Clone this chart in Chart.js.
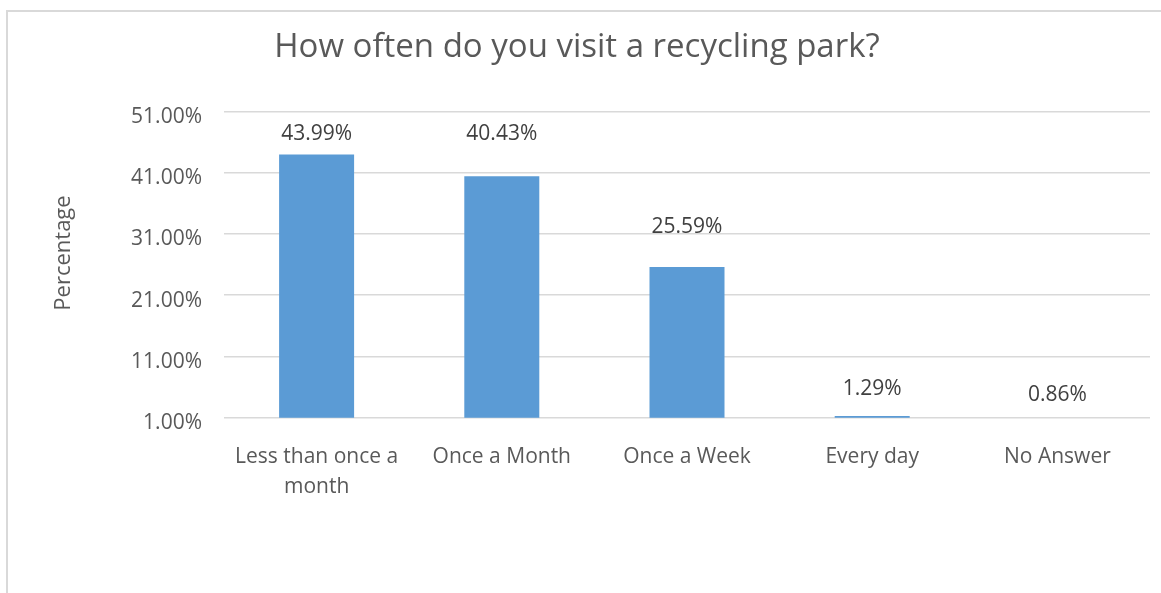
<!DOCTYPE html>
<html>
<head>
<meta charset="utf-8">
<script src="https://cdn.jsdelivr.net/npm/chart.js@4/dist/chart.umd.min.js"></script>
<style>
  html, body { margin: 0; padding: 0; background: #ffffff; }
  #wrap { position: relative; width: 1161px; height: 593px; }
</style>
</head>
<body>
<div id="wrap"><canvas id="c" width="1161" height="593"></canvas></div>
<script>
// Survey answers and their shares
const categories = [["Less than once a", "month"], "Once a Month", "Once a Week", "Every day", "No Answer"];
const percentages = [43.99, 40.43, 25.59, 1.29, 0.86];
const yTicks = [1, 11, 21, 31, 41, 51];

const chartTitle = "How often do you visit a recycling park?";
const yAxisTitle = "Percentage";

const FONT = "'Open Sans', 'Noto Sans', sans-serif";
const TEXT = "#595959";

// Frame, title and rotated axis caption
const decorations = {
  id: "decorations",
  beforeDraw(chart) {
    const ctx = chart.ctx;
    ctx.save();
    ctx.fillStyle = "#ffffff";
    ctx.fillRect(0, 0, chart.width, chart.height);
    ctx.strokeStyle = "#d9d9d9";
    ctx.lineWidth = 2;
    ctx.strokeRect(7, 11, 1300, 800);
    ctx.restore();
  },
  afterDraw(chart) {
    const ctx = chart.ctx;
    ctx.save();
    ctx.fillStyle = TEXT;
    ctx.textAlign = "center";
    ctx.textBaseline = "alphabetic";
    ctx.font = "33px " + FONT;
    ctx.fillText(chartTitle, 577, 56.5);

    ctx.translate(70, 253);
    ctx.rotate(-Math.PI / 2);
    ctx.font = "22px " + FONT;
    ctx.fillText(yAxisTitle, 0, 0);
    ctx.restore();
  }
};

// Value labels above each bar
const valueLabels = {
  id: "valueLabels",
  afterDatasetsDraw(chart, args, opts) {
    const ctx = chart.ctx;
    const meta = chart.getDatasetMeta(0);
    const data = chart.data.datasets[0].data;
    const bottom = chart.chartArea.bottom;
    ctx.save();
    ctx.fillStyle = "#404040";
    ctx.font = "21px " + FONT;
    ctx.textAlign = "center";
    ctx.textBaseline = "alphabetic";
    meta.data.forEach((bar, i) => {
      const top = Math.min(bar.y, bottom);
      const cy = top - opts.gaps[i];
      ctx.fillText(data[i].toFixed(2) + "%", bar.x, cy + 7.5);
    });
    ctx.restore();
  }
};

new Chart(document.getElementById("c"), {
  type: "bar",
  data: {
    labels: categories,
    datasets: [{
      data: percentages,
      backgroundColor: "#5B9BD5",
      borderWidth: 0,
      categoryPercentage: 1,
      barPercentage: 0.405
    }]
  },
  options: {
    responsive: false,
    animation: false,
    devicePixelRatio: 1,
    layout: { padding: { left: 0, right: 11, top: 111.5, bottom: 0 } },
    plugins: {
      legend: { display: false },
      title: { display: false },
      tooltip: { enabled: false },
      valueLabels: { gaps: [22, 44, 42, 28, 24] }
    },
    scales: {
      x: {
        grid: { display: false, drawTicks: false },
        border: { display: false },
        ticks: {
          color: TEXT,
          font: { family: FONT, size: 21, lineHeight: 1.45 },
          padding: 24,
          maxRotation: 0,
          autoSkip: false
        },
        afterFit(scale) { scale.height = 175.3; }
      },
      y: {
        min: 1,
        max: 51,
        afterBuildTicks(scale) { scale.ticks = yTicks.map(v => ({ value: v })); },
        grid: { color: "#d9d9d9", lineWidth: 1.5, drawTicks: false },
        border: { display: false },
        ticks: {
          color: TEXT,
          font: { family: FONT, size: 21 },
          padding: 22,
          labelOffset: 5.5,
          callback: v => v.toFixed(2) + "%"
        },
        afterFit(scale) { scale.width = 224; }
      }
    }
  },
  plugins: [decorations, valueLabels]
});
</script>
</body>
</html>
